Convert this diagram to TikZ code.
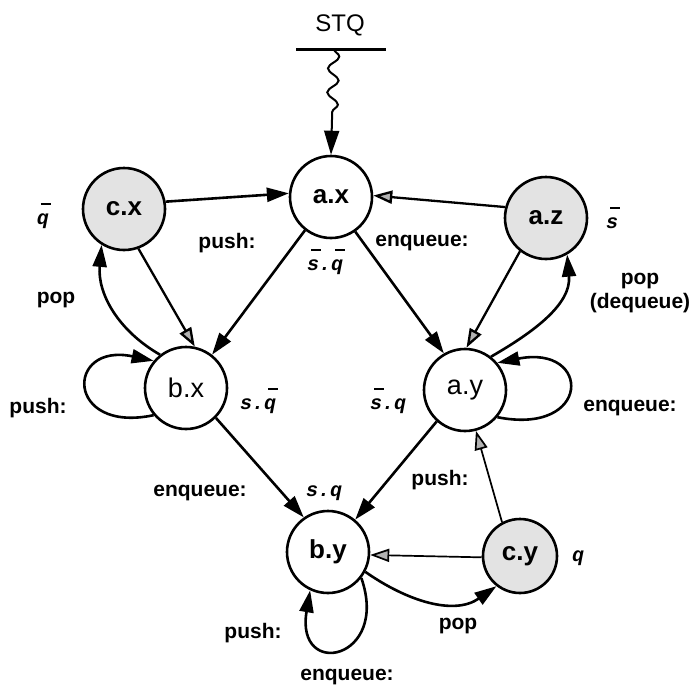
\documentclass[tikz,border=0pt]{standalone}
\usepackage{fontspec}
\setmainfont{Liberation Sans}
\newfontfamily\courfam{Liberation Mono}
\usetikzlibrary{arrows.meta,decorations.pathmorphing}
\newcommand\obar[1]{\makebox[0pt][l]{\hspace{0.2em}\raisebox{1.0em}{\rule{0.5em}{0.08em}}}#1}
\tikzset{
  st/.style={circle, draw, line width=2.6pt, minimum size=82pt, inner sep=0pt, font=\fontsize{26}{28}\selectfont\bfseries},
  stlight/.style={font=\fontsize{27}{28}\selectfont},
  shaded/.style={fill=gray!22},
  lbl/.style={font=\fontsize{21}{24}\selectfont\bfseries, inner sep=0pt, align=center},
  mlbl/.style={font=\fontsize{20}{22}\selectfont\courfam\bfseries\itshape, inner sep=0pt},
  edge/.style={line width=2.6pt, -{Triangle[length=22pt,width=14pt]}},
  gedge/.style={line width=2.3pt, -{Triangle[length=19pt,width=13pt,fill=gray!60]}},
  thin gedge/.style={gedge, line width=1.7pt},
}
\begin{document}
\begin{tikzpicture}[x=1pt,y=-1pt]
\useasboundingbox (0,0) rectangle (695,688);
% states
\node[st,shaded] (cx) at (124,209) {c.x};
\node[st] (ax) at (331,197) {a.x};
\node[st,shaded] (az) at (546,218) {a.z};
\node[st,stlight] (bx) at (186,388) {b.x};
\node[st,stlight] (ay) at (465,390) {a.y};
\node[st] (by) at (328,552) {b.y};
\node[st,shaded,minimum size=74pt] (cy) at (520,556) {c.y};
% STQ
\node[font=\fontsize{24}{26}\selectfont] (stq) at (340,25) {STQ};
\coordinate (bl) at (296,49);
\coordinate (br) at (386,49);
\coordinate (ws) at (334,49);
\draw[line width=3pt] (bl) -- (br);
\draw[line width=2pt, decorate, decoration={snake, segment length=24pt, amplitude=5.5pt, post length=34pt}, -{Triangle[length=24pt,width=15pt]}] (ws) -- (ax.north);
% edges
\draw[edge] (cx.10) -- (ax.175);
\draw[gedge] (az.165) -- (ax.2);
\draw[edge] (ax.232) -- (bx.52);
\draw[edge] (ax.305) -- (ay.120);
\draw[gedge] (cx.290) -- (bx.78);
\draw[gedge] (az.232) -- (ay.88);
\draw[edge] (bx.128) to[out=150,in=265] (cx.238);
\draw[edge] (ay.52) to[out=30,in=275] (az.300);
\draw[edge] (bx.220) .. controls (65,434) and (65,342) .. (bx.140);
\draw[edge] (ay.320) .. controls (592,436) and (592,344) .. (ay.40);
\draw[edge] (bx.315) -- (by.125);
\draw[edge] (ay.228) -- (by.50);
\draw[thin gedge] (cy.118) -- (ay.285);
\draw[thin gedge] (cy.182) -- (by.356);
\draw[edge] (by.332) to[out=-35,in=215] (cy.232);
\draw[edge] (by.322) .. controls (390,660) and (295,680) .. (by.245);
% labels
\node[mlbl] (lq1) at (43,216) {\obar{q}};
\node[mlbl] (ls1) at (612,218) {\obar{s}};
\node[lbl] (l1) at (227,243) {push:};
\node[lbl] (l2) at (422,243) {enqueue:};
\node[mlbl] (l3) at (325,262) {\obar{s}.\obar{q}};
\node[lbl] (l4) at (56,300) {pop};
\node[lbl] (l5) at (640,293) {pop\\(dequeue)};
\node[lbl] (l6) at (38,408) {push:};
\node[mlbl] (l7) at (258,401) {s.\obar{q}};
\node[mlbl] (l8) at (388,401) {\obar{s}.q};
\node[lbl] (l9) at (630,408) {enqueue:};
\node[lbl] (l10) at (200,493) {enqueue:};
\node[mlbl] (l11) at (324,493) {s.q};
\node[lbl] (l12) at (440,480) {push:};
\node[mlbl] (l13) at (578,558) {q};
\node[lbl] (l14) at (458,626) {pop};
\node[lbl] (l15) at (253,633) {push:};
\node[lbl] (l16) at (347,677) {enqueue:};
\end{tikzpicture}
\end{document}
